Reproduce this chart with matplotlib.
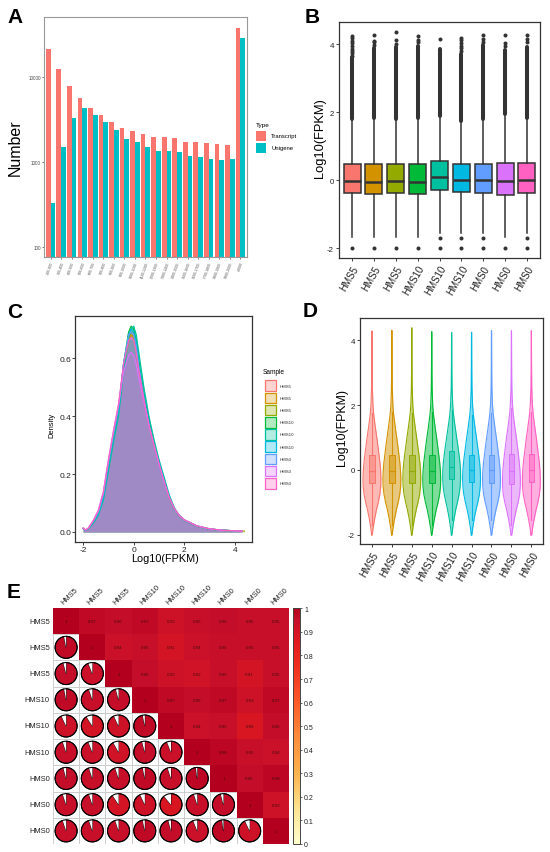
import numpy as np
import matplotlib
matplotlib.use('Agg')
import matplotlib.pyplot as plt
from matplotlib.patches import Rectangle, Wedge, Circle
from matplotlib.colors import LinearSegmentedColormap, Normalize
from matplotlib.ticker import NullLocator
import matplotlib.cm as cm

plt.rcParams['font.family'] = ['Liberation Sans', 'DejaVu Sans']

# ---------------- data ----------------
len_bins = ['200-300', '300-400', '400-500', '500-600', '600-700', '700-800', '800-900',
            '900-1000', '1000-1100', '1100-1200', '1200-1300', '1300-1400', '1400-1500',
            '1500-1600', '1600-1700', '1700-1800', '1800-1900', '1900-2000', '>2000']
transcript = [21500, 12500, 7840, 5760, 4320, 3570, 2955, 2510, 2337, 2135, 1987, 1987,
              1933, 1735, 1735, 1673, 1628, 1614, 38000]
unigene = [332, 1500, 3322, 4356, 3603, 2955, 2400, 1881, 1719, 1528, 1372, 1347,
           1311, 1176, 1155, 1094, 1075, 1094, 29000]

samples = ['HMS5', 'HMS5', 'HMS5', 'HMS10', 'HMS10', 'HMS10', 'HMS0', 'HMS0', 'HMS0']
sample_colors = ['#F8766D', '#D39200', '#93AA00', '#00BA38', '#00C19F', '#00B9E3',
                 '#619CFF', '#DB72FB', '#FF61C3']

# boxplot statistics (log10 FPKM)
box_q1 = [-0.39, -0.41, -0.39, -0.41, -0.28, -0.36, -0.39, -0.43, -0.37]
box_med = [-0.02, -0.04, -0.02, -0.04, 0.10, 0.00, 0.00, -0.02, 0.00]
box_q3 = [0.47, 0.47, 0.47, 0.47, 0.57, 0.47, 0.47, 0.50, 0.50]
whisk_lo = [-1.68, -1.68, -1.68, -1.68, -1.55, -1.55, -1.55, -1.68, -1.55]
whisk_hi = [1.76, 1.79, 1.76, 1.79, 1.84, 1.70, 1.76, 1.90, 1.80]
dense_out_top = [3.61, 3.90, 3.92, 3.94, 3.85, 3.70, 3.97, 3.84, 3.93]
high_outliers = [[4.24, 4.17, 4.10, 4.02, 3.95, 3.87, 3.80, 3.73, 3.66],
                 [4.26, 4.10, 4.05, 3.98],
                 [4.37, 4.12, 4.00],
                 [4.23, 4.13, 4.05],
                 [4.16],
                 [4.19, 4.12, 4.04, 3.96, 3.88, 3.80],
                 [4.26, 4.14, 4.06],
                 [4.26, 4.04, 3.96],
                 [4.26, 4.16, 4.05]]
low_outliers = [[-2.0], [-2.0], [-2.0], [-2.0], [-2.0, -1.7], [-2.0, -1.7], [-2.0, -1.7],
                [-2.0], [-2.0, -1.7]]
sample_max = [4.28, 4.30, 4.38, 4.26, 4.23, 4.24, 4.29, 4.29, 4.29]

# density curves (panel C), common x grid
dens_x = [-2.0, -1.9, -1.8, -1.6, -1.4, -1.2, -1.0, -0.8, -0.6, -0.4, -0.2, -0.1, 0.0, 0.1,
          0.2, 0.4, 0.6, 0.8, 1.0, 1.2, 1.4, 1.6, 1.8, 2.0, 2.5, 3.0, 3.5, 4.0, 4.3]
dens_y = [
    [0.012, 0.006, 0.011, 0.034, 0.065, 0.12, 0.23, 0.33, 0.42, 0.57, 0.66, 0.68, 0.67, 0.63,
     0.57, 0.47, 0.38, 0.30, 0.24, 0.18, 0.12, 0.080, 0.055, 0.040, 0.020, 0.010, 0.006, 0.004, 0.003],
    [0.012, 0.006, 0.011, 0.035, 0.066, 0.12, 0.23, 0.33, 0.42, 0.57, 0.66, 0.68, 0.67, 0.63,
     0.57, 0.47, 0.38, 0.30, 0.24, 0.18, 0.12, 0.080, 0.055, 0.040, 0.020, 0.010, 0.006, 0.004, 0.003],
    [0.012, 0.006, 0.011, 0.034, 0.064, 0.12, 0.23, 0.33, 0.42, 0.57, 0.67, 0.69, 0.68, 0.64,
     0.58, 0.47, 0.38, 0.30, 0.24, 0.18, 0.12, 0.080, 0.055, 0.040, 0.020, 0.010, 0.006, 0.004, 0.003],
    [0.012, 0.006, 0.011, 0.033, 0.063, 0.12, 0.23, 0.33, 0.42, 0.58, 0.69, 0.71, 0.70, 0.66,
     0.59, 0.48, 0.39, 0.31, 0.24, 0.18, 0.12, 0.080, 0.055, 0.040, 0.020, 0.010, 0.006, 0.004, 0.003],
    [0.012, 0.006, 0.010, 0.030, 0.058, 0.11, 0.21, 0.31, 0.40, 0.55, 0.67, 0.70, 0.71, 0.68,
     0.62, 0.50, 0.40, 0.32, 0.25, 0.19, 0.13, 0.085, 0.058, 0.042, 0.021, 0.011, 0.006, 0.004, 0.003],
    [0.012, 0.006, 0.011, 0.034, 0.064, 0.12, 0.23, 0.33, 0.42, 0.58, 0.68, 0.70, 0.69, 0.65,
     0.58, 0.47, 0.38, 0.30, 0.24, 0.18, 0.12, 0.080, 0.055, 0.040, 0.020, 0.010, 0.006, 0.004, 0.003],
    [0.012, 0.006, 0.012, 0.036, 0.068, 0.13, 0.24, 0.34, 0.43, 0.58, 0.68, 0.69, 0.68, 0.64,
     0.57, 0.46, 0.37, 0.30, 0.23, 0.17, 0.12, 0.080, 0.055, 0.040, 0.020, 0.010, 0.006, 0.004, 0.003],
    [0.014, 0.007, 0.013, 0.040, 0.075, 0.14, 0.25, 0.35, 0.44, 0.55, 0.61, 0.62, 0.61, 0.58,
     0.53, 0.45, 0.37, 0.30, 0.235, 0.175, 0.12, 0.082, 0.057, 0.042, 0.021, 0.011, 0.006, 0.004, 0.003],
    [0.013, 0.007, 0.013, 0.039, 0.072, 0.135, 0.245, 0.345, 0.44, 0.58, 0.66, 0.67, 0.66, 0.62,
     0.56, 0.46, 0.37, 0.30, 0.235, 0.175, 0.12, 0.082, 0.057, 0.042, 0.021, 0.011, 0.006, 0.004, 0.003],
]

# violin outlines (panel D): relative half-width along log10(FPKM), last point = sample max
violin_y = [-2.0, -1.8, -1.5, -1.2, -1.0, -0.75, -0.5, -0.25, 0.0, 0.25, 0.5, 0.75, 1.0,
            1.25, 1.5, 1.75, 2.0, 2.5, 3.0, 3.5, 4.0]
violin_w = [
    [0.03, 0.12, 0.30, 0.52, 0.70, 0.88, 0.98, 1.00, 0.96, 0.88, 0.77, 0.66, 0.54, 0.41, 0.29, 0.18, 0.11, 0.05, 0.03, 0.02, 0.015],
    [0.03, 0.12, 0.30, 0.52, 0.70, 0.88, 0.98, 1.00, 0.96, 0.88, 0.77, 0.66, 0.54, 0.41, 0.29, 0.18, 0.11, 0.05, 0.03, 0.02, 0.015],
    [0.03, 0.12, 0.29, 0.51, 0.69, 0.87, 0.97, 1.00, 0.97, 0.89, 0.78, 0.66, 0.54, 0.41, 0.29, 0.18, 0.11, 0.05, 0.03, 0.02, 0.015],
    [0.03, 0.12, 0.30, 0.52, 0.70, 0.88, 0.98, 1.00, 0.96, 0.88, 0.77, 0.66, 0.54, 0.41, 0.29, 0.18, 0.11, 0.05, 0.03, 0.02, 0.015],
    [0.03, 0.11, 0.27, 0.47, 0.64, 0.83, 0.95, 1.00, 0.99, 0.92, 0.81, 0.69, 0.56, 0.43, 0.30, 0.19, 0.12, 0.05, 0.03, 0.02, 0.015],
    [0.03, 0.12, 0.29, 0.51, 0.69, 0.87, 0.97, 1.00, 0.97, 0.89, 0.78, 0.66, 0.54, 0.41, 0.29, 0.18, 0.11, 0.05, 0.03, 0.02, 0.015],
    [0.03, 0.12, 0.30, 0.52, 0.70, 0.88, 0.98, 1.00, 0.96, 0.88, 0.77, 0.66, 0.54, 0.41, 0.29, 0.18, 0.11, 0.05, 0.03, 0.02, 0.015],
    [0.04, 0.14, 0.33, 0.56, 0.74, 0.91, 0.99, 1.00, 0.95, 0.87, 0.77, 0.66, 0.55, 0.42, 0.30, 0.19, 0.12, 0.05, 0.03, 0.02, 0.015],
    [0.04, 0.13, 0.32, 0.55, 0.73, 0.90, 0.99, 1.00, 0.96, 0.88, 0.77, 0.66, 0.55, 0.42, 0.30, 0.19, 0.12, 0.05, 0.03, 0.02, 0.015],
]

# correlation matrix (upper triangle as read)
corr_upper = [
    [1, 0.97, 0.96, 0.97, 0.93, 0.95, 0.96, 0.95, 0.95],
    [None, 1, 0.94, 0.95, 0.91, 0.94, 0.95, 0.95, 0.95],
    [None, None, 1, 0.96, 0.93, 0.92, 0.95, 0.91, 0.95],
    [None, None, None, 1, 0.97, 0.96, 0.97, 0.93, 0.97],
    [None, None, None, None, 1, 0.94, 0.95, 0.89, 0.96],
    [None, None, None, None, None, 1, 0.98, 0.95, 0.94],
    [None, None, None, None, None, None, 1, 0.96, 0.98],
    [None, None, None, None, None, None, None, 1, 0.93],
    [None, None, None, None, None, None, None, None, 1],
]
cbar_ticks = [0, 0.1, 0.2, 0.3, 0.4, 0.5, 0.6, 0.7, 0.8, 0.9, 1]
cbar_labels = ['0', '0.1', '0.2', '0.3', '0.4', '0.5', '0.6', '0.7', '0.8', '0.9', '1']

# ---------------- figure ----------------
W, H = 550, 853
fig = plt.figure(figsize=(5.5, 8.53), dpi=100)


def rect(l, t, r, b):
    return [l / W, 1 - b / H, (r - l) / W, (b - t) / H]


def fx(x):
    return x / W


def fy(y):
    return 1 - y / H


def letter(x, y, s):
    fig.text(fx(x), fy(y), s, fontsize=15, fontweight='bold', va='baseline', ha='left')


frame_col = '#333333'

# ---------------- Panel A ----------------
axA = fig.add_axes(rect(44.3, 18.3, 246.7, 258.3))
axA.set_yscale('log')
xa = np.arange(len(len_bins))
axA.bar(xa - 0.225, transcript, 0.45, color='#F8766D', linewidth=0)
axA.bar(xa + 0.225, unigene, 0.45, color='#00BFC4', linewidth=0)
axA.set_ylim(76, 50800)
axA.set_xlim(-0.6, len(len_bins) - 0.4)
axA.set_yticks([100, 1000, 10000])
axA.set_yticklabels(['100', '1000', '10000'])
axA.yaxis.set_minor_locator(NullLocator())
axA.set_xticks(xa)
axA.set_xticklabels(len_bins, rotation=70, ha='right', rotation_mode='anchor')
axA.tick_params(axis='y', labelsize=3.3, length=1.5, width=0.5, pad=1, colors='#444444')
axA.tick_params(axis='x', labelsize=2.6, length=1.5, width=0.5, pad=1, colors='#555555')
for s in axA.spines.values():
    s.set_color('#999999')
    s.set_linewidth(0.8)
fig.text(fx(15), fy(148), 'Number', rotation=90, fontsize=11.5, ha='center', va='center')
# legend A
fig.text(fx(256), fy(125), 'Type', fontsize=4.6, ha='left', va='center')
for k, (lab, col) in enumerate([('Transcript', '#F8766D'), ('Unigene', '#00BFC4')]):
    y0 = 132 + k * 11.5
    fig.add_artist(Rectangle((fx(256), fy(y0 + 10)), 10 / W, 10 / H, transform=fig.transFigure,
                             facecolor=col, edgecolor='none'))
    fig.text(fx(271), fy(y0 + 5), lab, fontsize=4.2, ha='left', va='center')
letter(7, 23, 'A')

# ---------------- Panel B ----------------
axB = fig.add_axes(rect(339, 22.7, 540, 259))
pos = np.arange(1, len(samples) + 1)
stats = []
for i in range(len(samples)):
    stats.append(dict(med=box_med[i], q1=box_q1[i], q3=box_q3[i], whislo=whisk_lo[i],
                      whishi=whisk_hi[i], fliers=[]))
bp = axB.bxp(stats, positions=pos, widths=0.78, patch_artist=True, showfliers=False,
             showcaps=False,
             boxprops=dict(edgecolor=frame_col, linewidth=1.1),
             whiskerprops=dict(color=frame_col, linewidth=1.1),
             medianprops=dict(color=frame_col, linewidth=1.8))
for patch, col in zip(bp['boxes'], sample_colors):
    patch.set_facecolor(col)
lc = axB.vlines(pos, [w + 0.04 for w in whisk_hi], dense_out_top, color=frame_col, linewidth=2.9)
lc.set_capstyle('round')
for i in range(len(samples)):
    vals = high_outliers[i] + low_outliers[i]
    axB.scatter([pos[i]] * len(vals), vals, s=8.4, color=frame_col, linewidths=0, zorder=3)
axB.set_xlim(0.4, len(samples) + 0.6)
axB.set_ylim(-2.29, 4.66)
axB.set_yticks([-2, 0, 2, 4])
axB.set_yticklabels(['-2', '0', '2', '4'])
axB.set_xticks(pos)
axB.set_xticklabels(samples, rotation=60, ha='right', va='top', rotation_mode='anchor')
axB.tick_params(axis='y', labelsize=5.7, length=2.5, width=0.6, pad=1.2, colors='#222222')
axB.tick_params(axis='x', labelsize=7, length=2.5, width=0.6, pad=1.5, colors='#222222')
for s in axB.spines.values():
    s.set_color(frame_col)
    s.set_linewidth(0.9)
fig.text(fx(320), fy(138), 'Log10(FPKM)', rotation=90, fontsize=9.3, ha='center', va='center')
letter(305, 23, 'B')

# ---------------- Panel C ----------------
axC = fig.add_axes(rect(75.3, 317, 252, 543))
for i in range(len(samples)):
    xs = list(dens_x[:-1]) + [sample_max[i]]
    axC.fill_between(xs, dens_y[i], 0, color=sample_colors[i], alpha=0.3, linewidth=0)
    axC.plot(xs, dens_y[i], color=sample_colors[i], linewidth=0.9)
axC.set_xlim(-2.31, 4.68)
axC.set_ylim(-0.0345, 0.745)
axC.set_xticks([-2, 0, 2, 4])
axC.set_xticklabels(['-2', '0', '2', '4'])
axC.set_yticks([0, 0.2, 0.4, 0.6])
axC.set_yticklabels(['0.0', '0.2', '0.4', '0.6'])
axC.tick_params(labelsize=6, length=2, width=0.6, pad=0.8, colors='#222222')
for s in axC.spines.values():
    s.set_color(frame_col)
    s.set_linewidth(0.9)
fig.text(fx(52), fy(425), 'Density', rotation=90, fontsize=5.4, ha='center', va='center')
fig.text(fx(165), fy(559.5), 'Log10(FPKM)', fontsize=7.8, ha='center', va='center')
fig.text(fx(263), fy(373), 'Sample', fontsize=4.7, ha='left', va='center')
for i in range(len(samples)):
    yc = 386.7 + i * 12.2
    fig.add_artist(Rectangle((fx(264.5), fy(yc + 5.3)), 11 / W, 10.6 / H, transform=fig.transFigure,
                             facecolor=matplotlib.colors.to_rgba(sample_colors[i], 0.3),
                             edgecolor=sample_colors[i], linewidth=0.9))
    fig.text(fx(280), fy(yc), samples[i], fontsize=3.2, ha='left', va='center', color='#333333')
letter(7, 318, 'C')

# ---------------- Panel D ----------------
axD = fig.add_axes(rect(360, 319, 543.3, 545))
for i in range(len(samples)):
    ys = np.array(list(violin_y) + [sample_max[i]])
    hw = np.array(list(violin_w[i]) + [0.01]) * 0.45
    c = pos[i]
    axD.fill_betweenx(ys, c - hw, c + hw, color=sample_colors[i], alpha=0.5, linewidth=0)
    axD.plot(np.concatenate([c - hw, (c + hw)[::-1], [c - hw[0]]]),
             np.concatenate([ys, ys[::-1], [ys[0]]]), color=sample_colors[i], linewidth=0.8)
    bw = 0.14
    axD.add_patch(Rectangle((c - bw, box_q1[i]), 2 * bw, box_q3[i] - box_q1[i],
                            facecolor=matplotlib.colors.to_rgba(sample_colors[i], 0.5),
                            edgecolor=sample_colors[i], linewidth=0.7))
    axD.plot([c - bw, c + bw], [box_med[i], box_med[i]], color=sample_colors[i], linewidth=0.9)
    axD.plot([c, c], [whisk_lo[i], box_q1[i]], color=sample_colors[i], linewidth=0.8)
    axD.plot([c, c], [box_q3[i], whisk_hi[i]], color=sample_colors[i], linewidth=0.8)
axD.set_xlim(0.4, len(samples) + 0.6)
axD.set_ylim(-2.28, 4.68)
axD.set_yticks([-2, 0, 2, 4])
axD.set_yticklabels(['-2', '0', '2', '4'])
axD.set_xticks(pos)
axD.set_xticklabels(samples, rotation=60, ha='right', va='top', rotation_mode='anchor')
axD.tick_params(axis='y', labelsize=5.7, length=2.5, width=0.6, pad=1.2, colors='#222222')
axD.tick_params(axis='x', labelsize=7, length=2.5, width=0.6, pad=1.5, colors='#222222')
for s in axD.spines.values():
    s.set_color(frame_col)
    s.set_linewidth(0.9)
fig.text(fx(342), fy(428), 'Log10(FPKM)', rotation=90, fontsize=8.9, ha='center', va='center')
letter(303, 317, 'D')

# ---------------- Panel E ----------------
cmap = LinearSegmentedColormap.from_list('corr', [
    (0.0, '#FFFFCC'), (0.15, '#FEE391'), (0.3, '#FEB24C'), (0.45, '#FD8D3C'),
    (0.6, '#FC5A2A'), (0.75, '#F0301E'), (0.85, '#E31A1C'), (0.95, '#C8102A'),
    (1.0, '#B4001F')])
norm = Normalize(0, 1)
n = len(samples)
axE = fig.add_axes(rect(53, 609, 289, 845))
axE.set_xlim(0, n)
axE.set_ylim(0, n)
axE.axis('off')
for i in range(n):
    for j in range(n):
        x0, yc = j, n - 1 - i
        if j >= i:
            r = corr_upper[i][j]
            axE.add_patch(Rectangle((x0, yc), 1, 1, facecolor=cmap(norm(r)), edgecolor='none'))
            txt = '1' if r == 1 else ('%.2f' % r)
            axE.text(x0 + 0.5, yc + 0.5, txt, fontsize=3.2, ha='center', va='center',
                     color='#4a0c0c')
        else:
            r = corr_upper[j][i]
            axE.add_patch(Rectangle((x0, yc), 1, 1, facecolor='white', edgecolor='#c8c8c8',
                                    linewidth=0.6))
            cx, cy = x0 + 0.5, yc + 0.5
            rad = 0.42
            axE.add_patch(Wedge((cx, cy), rad, 90 - r * 360, 90, facecolor=cmap(norm(r)),
                                edgecolor='black', linewidth=0.6))
            axE.add_patch(Wedge((cx, cy), rad, 90, 90 + (1 - r) * 360, facecolor='white',
                                edgecolor='none'))
            axE.add_patch(Circle((cx, cy), rad, facecolor='none', edgecolor='black', linewidth=0.8))
for i in range(n):
    axE.text(-0.12, n - 1 - i + 0.5, samples[i], fontsize=5.4, ha='right', va='center',
             color='#222222')
    axE.text(i + 0.45, n + 0.1, samples[i], fontsize=5.4, ha='left', va='bottom', rotation=45,
             rotation_mode='anchor', color='#222222')
axCB = fig.add_axes(rect(293.3, 609.3, 300, 845))
cb = fig.colorbar(cm.ScalarMappable(norm=norm, cmap=cmap), cax=axCB)
cb.set_ticks(cbar_ticks)
cb.set_ticklabels(cbar_labels)
cb.outline.set_edgecolor('#444444')
cb.outline.set_linewidth(0.7)
axCB.tick_params(labelsize=5, length=1.5, width=0.5, pad=1.5, colors='#222222')
letter(7, 598, 'E')

fig.savefig('out.png', dpi=100)
